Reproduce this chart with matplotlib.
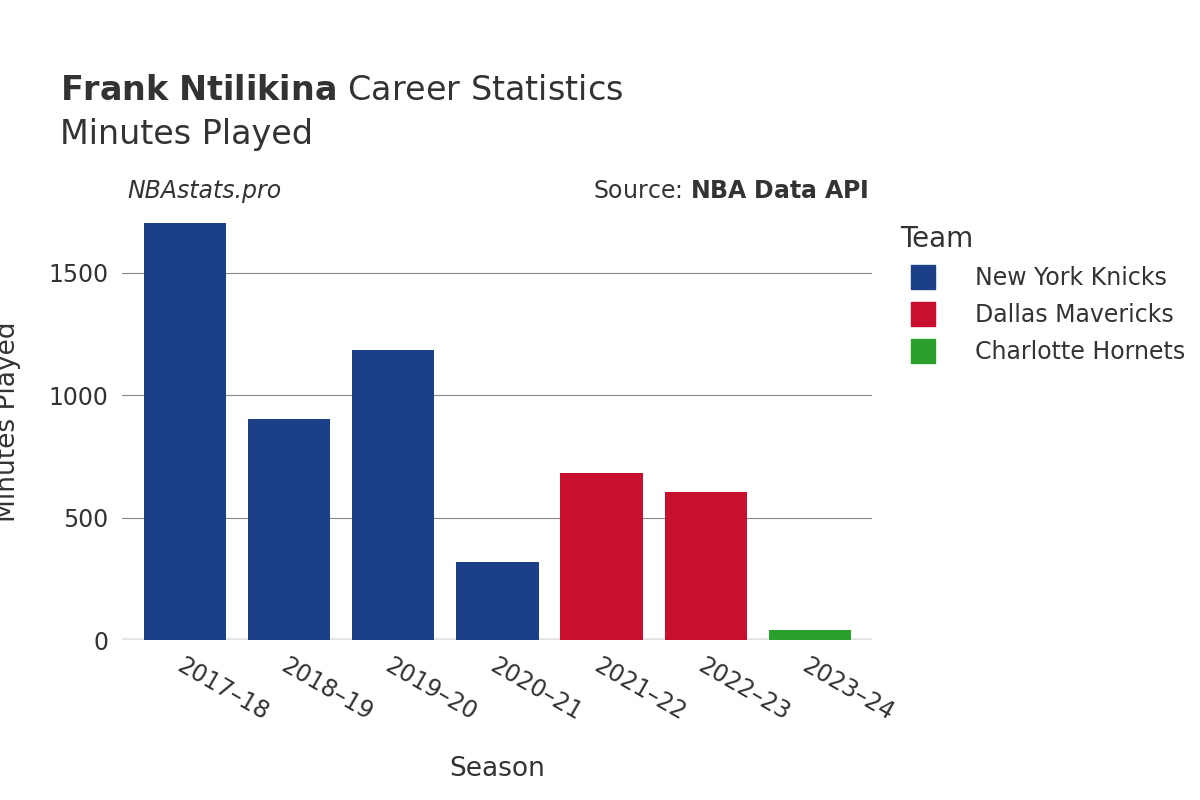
import matplotlib.pyplot as plt
from matplotlib.lines import Line2D

seasons = ['2017–18', '2018–19', '2019–20', '2020–21', '2021–22', '2022–23', '2023–24']
minutes = [1702, 902, 1184, 318, 682, 604, 41]
teams = ['New York Knicks', 'New York Knicks', 'New York Knicks', 'New York Knicks',
         'Dallas Mavericks', 'Dallas Mavericks', 'Charlotte Hornets']
team_colors = {'New York Knicks': '#1b4087', 'Dallas Mavericks': '#c8102e',
               'Charlotte Hornets': '#2ca02c'}

plt.rcParams['font.family'] = ['DejaVu Sans']
fig = plt.figure(figsize=(12, 8), dpi=100)
ax = fig.add_axes([0.102, 0.2, 0.625, 0.545])

ax.bar(range(len(seasons)), minutes, width=0.79,
       color=[team_colors[t] for t in teams])
ax.set_xlim(-0.6, 6.6)
ax.set_ylim(0, 1780)
ax.set_yticks([0, 500, 1000, 1500])
ax.grid(axis='y', color='#888888', linewidth=0.8)
ax.set_axisbelow(True)
for s in ax.spines.values():
    s.set_visible(False)
ax.axhline(0, color='#e8e8e8', linewidth=3, zorder=0)
ax.set_xticks(range(len(seasons)))
ax.set_xticklabels(seasons, rotation=-30, ha='left', rotation_mode='anchor')
ax.tick_params(axis='both', length=0, labelsize=17, colors='#333333', pad=10)
ax.set_xlabel('Season', fontsize=19, color='#333333', labelpad=22)
ax.set_ylabel('Minutes Played', fontsize=19, color='#333333', labelpad=24)
ax.yaxis.set_label_coords(-0.135, 0.5)

fig.text(0.05, 0.875, r'$\bf{Frank\ Ntilikina}$ Career Statistics', fontsize=24, color='#333333')
fig.text(0.05, 0.82, 'Minutes Played', fontsize=24, color='#333333')
fig.text(0.106, 0.752, 'NBAstats.pro', fontsize=17, style='italic', color='#333333')
fig.text(0.724, 0.752, r'Source: $\bf{NBA\ Data\ API}$', fontsize=17, color='#333333', ha='right')

handles = [Line2D([], [], marker='s', linestyle='none', markersize=17, color=c, label=t)
           for t, c in team_colors.items()]
leg = fig.legend(handles=handles, title='Team', loc='upper left', bbox_to_anchor=(0.732, 0.745),
                 frameon=False, fontsize=17, title_fontsize=20,
                 labelspacing=0.55, handletextpad=1.2)
leg._legend_box.align = 'left'
for t in leg.get_texts():
    t.set_color('#333333')
leg.get_title().set_color('#333333')

fig.savefig('out.png')
